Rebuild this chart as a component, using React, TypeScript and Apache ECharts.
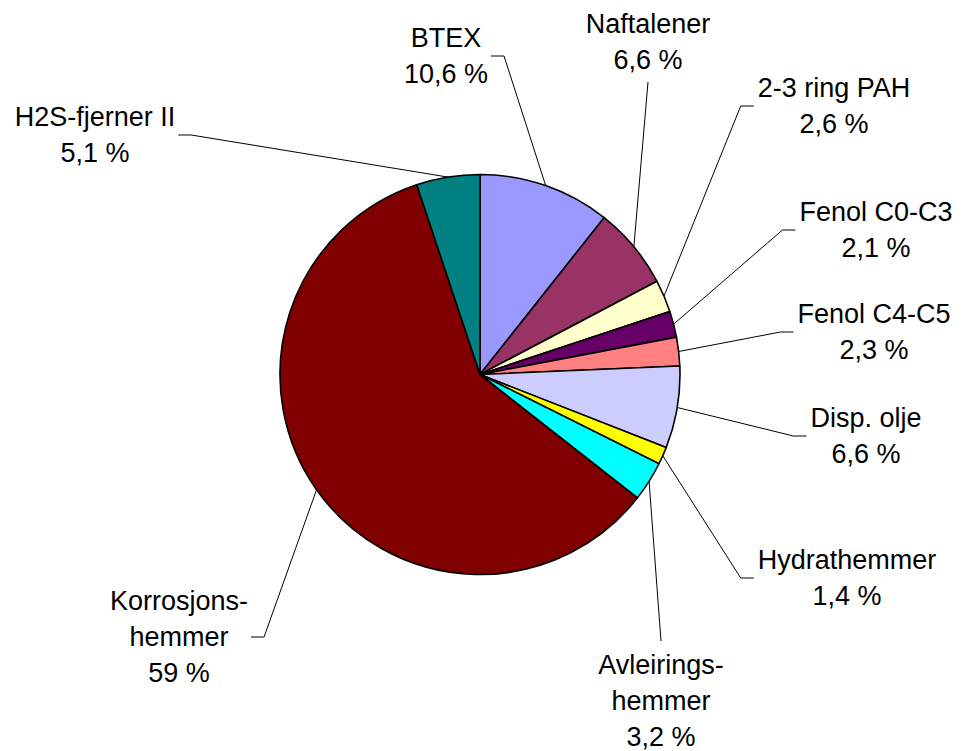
import React, { useEffect, useRef } from 'react';
import * as echarts from 'echarts';

// ---- data ----
const categories: string[] = [
  'BTEX',
  'Naftalener',
  '2-3 ring PAH',
  'Fenol C0-C3',
  'Fenol C4-C5',
  'Disp. olje',
  'Hydrathemmer',
  'Avleirings-\nhemmer',
  'Korrosjons-\nhemmer',
  'H2S-fjerner II',
];
const values: number[] = [10.6, 6.6, 2.6, 2.1, 2.3, 6.6, 1.4, 3.2, 59, 5.1];

// ---- styles ----
const sliceColors: string[] = [
  '#9999FF',
  '#993366',
  '#FFFFCC',
  '#660066',
  '#FF8080',
  '#CCCCFF',
  '#FFFF00',
  '#00FFFF',
  '#800000',
  '#008080',
];

// label placement (center x, middle y) and the side the leader line attaches to
type Side = 'left' | 'right' | 'top' | 'bottom';
const labelAnchors: { x: number; y: number; side: Side }[] = [
  { x: 446, y: 56, side: 'right' },
  { x: 648, y: 42, side: 'bottom' },
  { x: 834, y: 106, side: 'left' },
  { x: 876, y: 230, side: 'left' },
  { x: 874, y: 332, side: 'left' },
  { x: 866, y: 436, side: 'left' },
  { x: 847, y: 578, side: 'left' },
  { x: 661, y: 701, side: 'top' },
  { x: 179, y: 637, side: 'right' },
  { x: 95, y: 135, side: 'right' },
];

const fmt = (v: number) => String(v).replace('.', ',') + ' %';

export default function App() {
  const ref = useRef<HTMLDivElement>(null);

  useEffect(() => {
    if (!ref.current) return;
    const chart = echarts.init(ref.current, undefined, { renderer: 'svg' });
    chart.setOption({
      animation: false,
      backgroundColor: '#ffffff',
      series: [
        {
          type: 'pie',
          center: [480, 374.5],
          radius: 200,
          startAngle: 90,
          clockwise: true,
          avoidLabelOverlap: false,
          emphasis: { disabled: true },
          itemStyle: { borderColor: '#000000', borderWidth: 1.6 },
          label: {
            show: true,
            position: 'outside',
            formatter: (p: any) => `${p.name}\n${fmt(p.value)}`,
            fontFamily: 'Liberation Sans, Arial, sans-serif',
            fontSize: 27,
            lineHeight: 36,
            color: '#000000',
            align: 'center',
          },
          labelLine: {
            show: true,
            length: 10,
            length2: 10,
            smooth: false,
            lineStyle: { color: '#000000', width: 1 },
          },
          labelLayout: (params: any) => {
            const a = labelAnchors[params.dataIndex];
            const w = params.labelRect.width;
            const h = params.labelRect.height;
            const pts = params.labelLinePoints;
            const p0 = pts && pts[0] ? pts[0] : [a.x, a.y];
            let end: number[];
            let elbow: number[];
            if (a.side === 'right') {
              end = [a.x + w / 2 + 3, a.y];
              elbow = [end[0] + 13, a.y];
            } else if (a.side === 'left') {
              end = [a.x - w / 2 - 4, a.y];
              elbow = [end[0] - 13, a.y];
            } else if (a.side === 'bottom') {
              end = [a.x, a.y + h / 2 + 4];
              elbow = end;
            } else {
              end = [a.x, a.y - h / 2 - 6];
              elbow = end;
            }
            return {
              x: a.x,
              y: a.y,
              align: 'center',
              verticalAlign: 'middle',
              labelLinePoints: [p0, elbow, end],
            };
          },
          data: categories.map((name, i) => ({
            name,
            value: values[i],
            itemStyle: { color: sliceColors[i] },
          })),
        },
      ],
    });
    return () => chart.dispose();
  }, []);

  return (
    <div
      ref={ref}
      style={{ position: 'absolute', left: 0, top: 0, width: 962, height: 751 }}
    />
  );
}
